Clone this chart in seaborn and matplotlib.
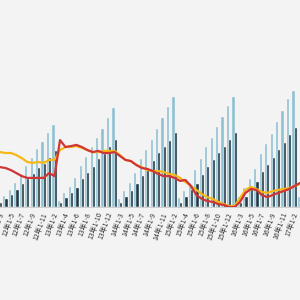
import pandas as pd
import matplotlib
matplotlib.use('Agg')
import matplotlib.pyplot as plt
import seaborn as sns

# periods: cumulative months, 2012 to 2017
years = ['12', '13', '14', '15', '16']
months = ['1-2', '1-3', '1-4', '1-5', '1-6', '1-7', '1-8', '1-9', '1-10', '1-11', '1-12']
periods = [f'{y}年{m}' for y in years for m in months] + ['17年1-2']

# bar values
total = [6, 11, 17, 24, 33, 41, 49, 58, 65, 74, 82,
         6, 14, 20, 29, 41, 50, 60, 69, 78, 89, 99,
         8, 16, 24, 34, 48, 57, 67, 78, 89, 100, 110,
         9, 16, 24, 37, 48, 60, 69, 80, 90, 101, 110,
         10, 19, 28, 38, 53, 63, 73, 85, 96, 108, 116,
         10]
part = [4, 8, 12, 17, 23, 28, 33, 39, 43, 49, 56,
        4, 9, 14, 19, 28, 34, 40, 48, 53, 60, 67,
        4, 10, 16, 23, 31, 37, 46, 54, 60, 66, 74,
        4, 10, 17, 23, 32, 40, 47, 54, 60, 67, 74,
        4, 10, 17, 25, 35, 42, 49, 57, 64, 72, 79,
        5]

# growth rates, %
growth_red = [13.3, 13.0, 12.3, 11.3, 10.3, 9.7, 9.7, 9.7, 9.7, 11.3, 10.3,
              22.3, 20.0, 20.3, 20.7, 20.0, 19.0, 18.3, 18.7, 18.0, 18.0, 18.3,
              17.0, 15.7, 15.3, 14.0, 13.0, 12.7, 12.0, 11.0, 10.3, 10.3, 9.7,
              8.7, 9.0, 7.0, 4.0, 2.7, 2.0, 1.7, 1.0, 0.7, 0.0, 0.0,
              1.7, 4.7, 6.0, 5.7, 4.0, 3.3, 4.0, 4.7, 5.3, 6.0, 7.0,
              8.0]
growth_yellow = [18.3, 18.0, 18.0, 17.3, 16.3, 15.0, 14.7, 15.0, 14.7, 15.7, 15.7,
                 19.0, 20.0, 20.0, 20.3, 19.7, 19.0, 18.3, 18.3, 18.7, 18.7, 18.7,
                 17.3, 15.7, 15.3, 14.0, 13.3, 12.3, 12.0, 12.0, 11.7, 11.0, 10.7,
                 9.7, 8.3, 7.0, 5.7, 4.3, 3.3, 2.7, 1.7, 1.0, 0.3, 0.3,
                 3.0, 5.7, 6.7, 6.0, 5.0, 4.7, 5.3, 5.7, 6.0, 6.3, 7.0,
                 7.7]

sns.set_style('white')
plt.rcParams['font.family'] = ['Noto Sans CJK SC', 'DejaVu Sans']

bars = pd.DataFrame({
    'period': periods * 2,
    'series': ['total'] * len(periods) + ['part'] * len(periods),
    'value': total + part,
})
lines = pd.DataFrame({'period': periods, 'red': growth_red, 'yellow': growth_yellow})

fig = plt.figure(figsize=(3, 3), dpi=100, facecolor='#f3f3f3')
ax = fig.add_axes([0, 0.31, 1, 0.69])
ax.set_facecolor('#f3f3f3')

sns.barplot(data=bars, x='period', y='value', hue='series', order=periods,
            hue_order=['total', 'part'], palette=['#82c6de', '#173a4c'],
            width=0.8, edgecolor='#f3f3f3', linewidth=0.3, legend=False, ax=ax)

ax2 = ax.twinx()
sns.lineplot(x=range(len(periods)), y=lines['yellow'], color='#f6b816', lw=1.6, ax=ax2)
sns.lineplot(x=range(len(periods)), y=lines['red'], color='#cf3535', lw=1.6, ax=ax2)

ax.set_ylim(0, 207)
ax2.set_ylim(0, 69)
ax.set_xlim(2.35, 54.6)
ax2.set_xlim(2.35, 54.6)

ax.set_xticks(range(len(periods)))
ax.set_xticklabels([p if i % 2 == 1 else '' for i, p in enumerate(periods)],
                   rotation=70, ha='right', fontsize=5, color='#333333')
ax.tick_params(axis='x', length=2, width=0.5, color='#bbbbbb', pad=1)
ax.set_yticks([])
ax2.set_yticks([])
ax.set_xlabel('')
ax.set_ylabel('')
ax2.set_ylabel('')
for a in (ax, ax2):
    for s in ['top', 'left', 'right']:
        a.spines[s].set_visible(False)
    a.spines['bottom'].set_color('#cccccc')
    a.spines['bottom'].set_linewidth(0.5)

fig.savefig('out.png', dpi=100, facecolor='#f3f3f3')
